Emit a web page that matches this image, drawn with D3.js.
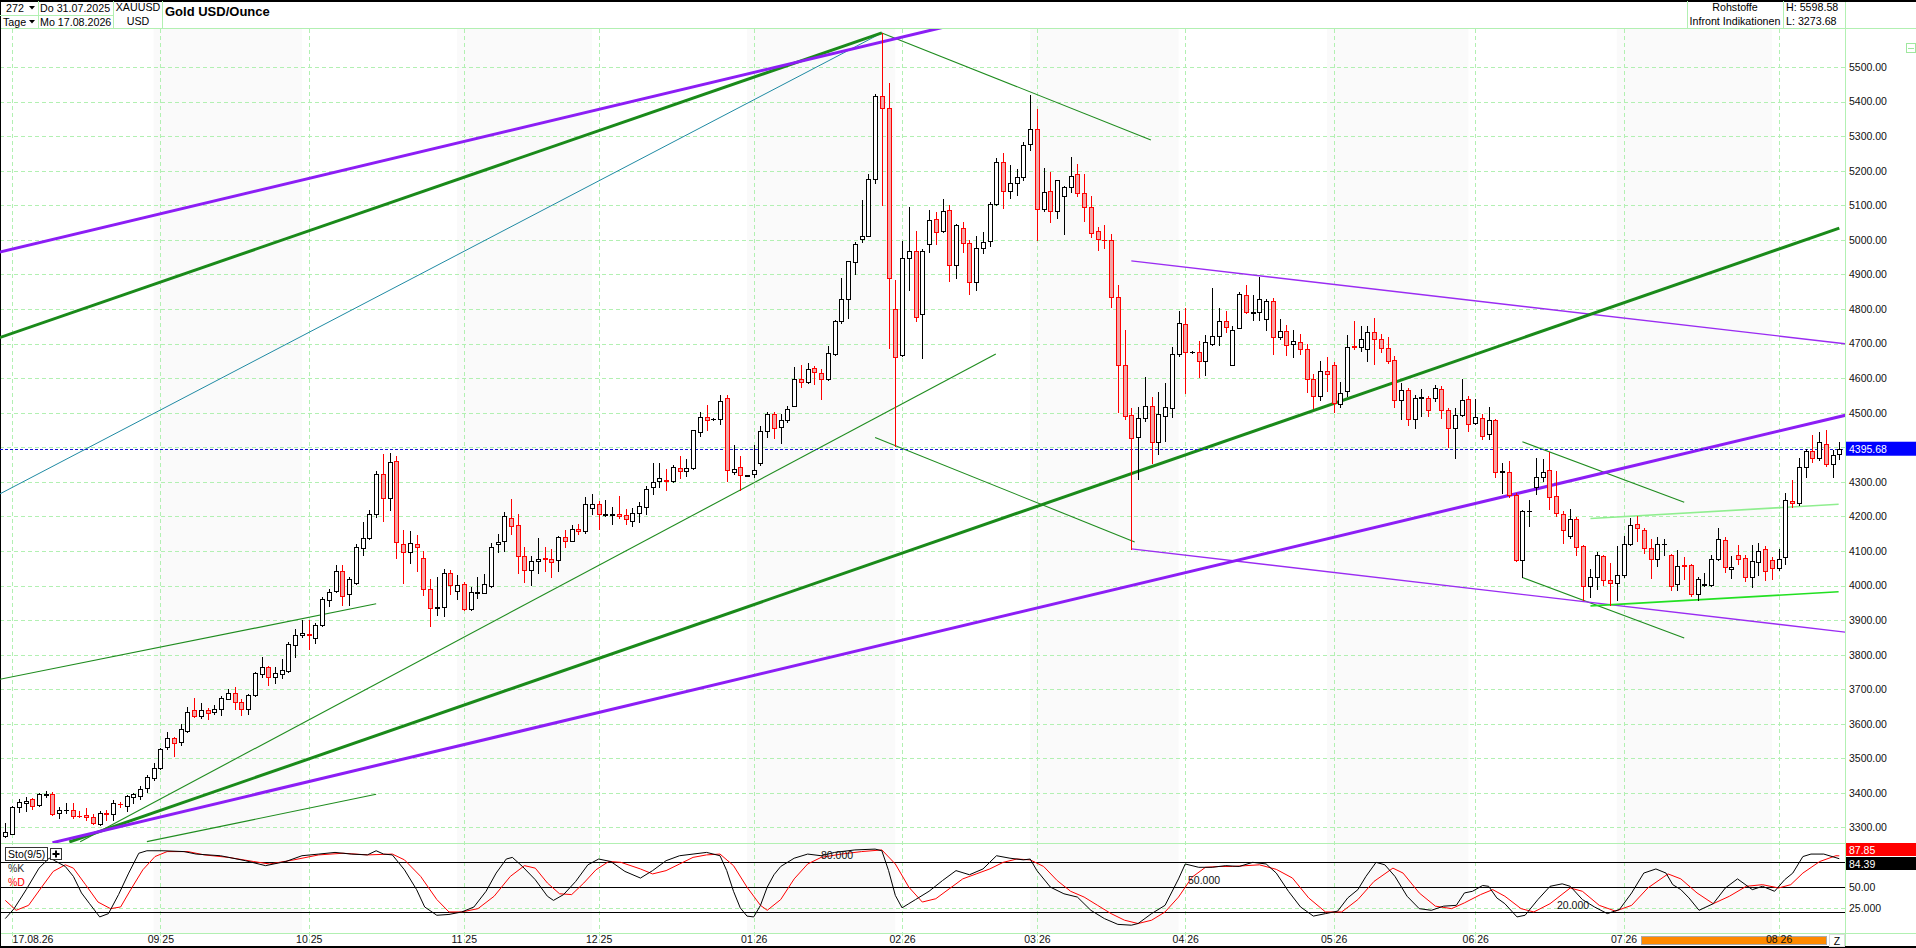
<!DOCTYPE html>
<html>
<head>
<meta charset="utf-8">
<script src="https://cdn.jsdelivr.net/npm/d3@7"></script>
<style>
html, body { margin: 0; padding: 0; background: #fff; overflow: hidden; }
svg { display: block; font-family: "Liberation Sans", Arial, sans-serif; }
</style>
</head>
<body>
<div id="chart"></div>
<script>
// ---- data ----
const open = [
3276,3282,3360,3372,3381,3365,3394,3397,3341,3351, 3352,3334,3336,3330,3309,3342,3338,3368,3363,3387,
3391,3413,3444,3471,3532,3558,3548,3578,3639,3623, 3639,3633,3642,3673,3688,3662,3642,3683,3743,3763,
3734,3743,3753,3828,3858,3861,3849,3886,3958,3985, 4042,3974,4008,4109,4136,4208,4324,4252,4359,4121,
4096,4121,4081,3989,3934,3938,4035,3985,4004,3932, 3977,3979,3999,4119,4130,4195,4175,4086,4046,4070,
4079,4078,4073,4139,4130,4164,4157,4225,4236,4205, 4203,4208,4203,4187,4211,4227,4284,4302,4306,4302,
4341,4332,4340,4444,4488,4481,4481,4543,4328,4344, 4318,4324,4355,4446,4495,4459,4479,4520,4598,4589,
4628,4614,4597,4670,4764,4830,4937,5003,5012,5177, 5417,5382,4799,4667,4946,4967,4785,4987,5059,5025,
5086,4927,5035,4990,4879,4976,4996,5103,5226,5140, 5163,5183,5277,5321,5088,5140,5082,5128,5152,5189,
5136,5095,5025,5000,5000,4836,4637,4494,4429,4486, 4520,4415,4491,4513,4671,4757,4675,4676,4650,4700,
4721,4766,4639,4746,4841,4788,4791,4772,4824,4719, 4736,4700,4705,4683,4596,4548,4621,4639,4524,4563,
4692,4690,4685,4733,4714,4688,4653,4536,4566,4483, 4543,4543,4543,4569,4507,4457,4494,4540,4470,4486,
4437,4478,4329,4329,4262,4073,4215,4284,4313,4334, 4260,4206,4142,4192,4115,4000,4026,4086,4017,4007,
4030,4120,4177,4161,4108,4076,4119,4087,4004,4058, 4058,3974,4002,4002,4076,4132,4047,4087,4079,4026,
4068,4105,4074,4050,4082,4245,4238,4342,4389,4370, 4408,4351,4380];
const high = [
3312,3362,3381,3387,3384,3401,3406,3404,3358,3370, 3372,3348,3357,3339,3349,3351,3379,3375,3394,3401,
3420,3452,3487,3529,3577,3563,3599,3649,3675,3659, 3647,3654,3680,3702,3707,3673,3686,3749,3793,3767,
3765,3787,3837,3874,3899,3900,3892,3967,3990,4058, 4058,4025,4120,4184,4218,4331,4380,4382,4376,4160,
4157,4146,4100,4020,4025,4047,4045,4030,4010,3995, 4024,4032,4123,4150,4214,4249,4208,4112,4084,4137,
4112,4106,4144,4162,4175,4179,4256,4266,4245,4247, 4227,4260,4222,4225,4241,4287,4355,4354,4338,4349,
4376,4365,4451,4503,4523,4484,4551,4551,4407,4376, 4321,4407,4462,4503,4503,4495,4520,4633,4639,4644,
4636,4625,4692,4768,4890,4940,4995,5114,5191,5423, 5598.58,5453,4885,4998,5094,5025,4973,5086,5080,5117,
5101,5047,5052,5000,5011,5023,5109,5237,5251,5216, 5205,5283,5419,5379,5208,5196,5174,5155,5240,5220,
5191,5128,5037,5042,5016,4868,4738,4513,4515,4602, 4544,4561,4585,4690,4793,4802,4677,4706,4724,4860,
4802,4794,4750,4848,4870,4839,4892,4829,4832,4772, 4754,4740,4729,4700,4611,4649,4661,4647,4588,4724,
4764,4751,4750,4775,4729,4720,4665,4586,4571,4550, 4569,4547,4581,4576,4514,4514,4597,4548,4540,4497,
4515,4483,4355,4361,4267,4219,4247,4368,4365,4387, 4331,4216,4220,4197,4118,4047,4097,4089,4065,4113,
4144,4196,4201,4166,4134,4140,4134,4092,4103,4082, 4062,4024,4036,4089,4166,4140,4084,4116,4089,4118,
4122,4113,4082,4105,4269,4305,4370,4394,4435,4443, 4449,4393,4416];
const low = [
3273.68,3280,3344,3348,3354,3363,3389,3337,3328,3341, 3328,3330,3321,3310,3307,3323,3321,3358,3347,3372,
3382,3403,3437,3469,3526,3508,3540,3576,3620,3617, 3613,3629,3624,3671,3644,3626,3628,3681,3734,3713,
3719,3731,3751,3792,3852,3816,3834,3883,3942,3982, 3944,3944,4004,4088,4134,4199,4187,4218,4081,4006,
4066,4043,3972,3884,3914,3911,3974,3960,3930,3930, 3963,3977,3997,4098,4101,4148,4035,4010,4002,4037,
4043,4026,4043,4111,4128,4148,4153,4208,4164,4201, 4179,4194,4177,4172,4184,4208,4264,4286,4275,4300,
4311,4316,4338,4433,4451,4480,4468,4302,4324,4277, 4317,4313,4349,4431,4426,4413,4473,4518,4573,4587,
4584,4540,4595,4667,4760,4775,4901,4995,5011,5163, 5100,4687,4404,4663,4854,4764,4658,4966,4989,5023,
4880,4890,4966,4844,4855,4961,4981,5101,5093,5122, 5131,5174,5261,4999,5083,5053,5064,5016,5138,5128,
5055,5007,4970,4975,4805,4503,4481,4106,4309,4476, 4353,4379,4419,4487,4664,4556,4674,4604,4609,4697,
4697,4733,4639,4745,4788,4767,4767,4740,4671,4714, 4668,4660,4671,4559,4513,4537,4563,4503,4516,4549,
4685,4679,4650,4642,4676,4645,4515,4483,4464,4456, 4491,4491,4534,4486,4401,4368,4491,4447,4467,4425,
4423,4313,4269,4257,4070,4024,4171,4264,4303,4221, 4201,4122,4137,4089,3959,3966,3990,4002,3945,3959,
4026,4118,4130,4094,4023,4055,4089,3988,3988,4019, 3971,3959,4000,4000,4074,4038,4022,4063,4012,3996,
4029,4017,4019,4044,4063,4228,4233,4315,4358,4363, 4346,4313,4366];
const close = [
3286,3359,3373,3378,3363,3396,3397,3340,3351,3352, 3332,3333,3329,3312,3341,3340,3370,3367,3391,3396,
3411,3445,3473,3526,3558,3545,3584,3633,3623,3639, 3630,3642,3676,3688,3662,3642,3683,3746,3763,3734,
3746,3757,3830,3857,3864,3856,3885,3960,3982,4042, 3970,4018,4110,4138,4208,4324,4252,4356,4125,4096,
4124,4110,3989,3934,3938,4035,4001,4001,3932,3980, 3982,4004,4112,4127,4200,4173,4084,4045,4070,4078,
4077,4067,4139,4128,4164,4159,4236,4236,4208,4206, 4208,4200,4192,4211,4230,4280,4299,4310,4303,4344,
4330,4341,4449,4488,4479,4482,4534,4333,4338,4319, 4319,4333,4446,4495,4457,4479,4512,4598,4589,4626,
4619,4597,4672,4764,4830,4939,4987,5012,5177,5417, 5381,4891,4661,4946,4967,4777,4967,5057,5023,5083,
4927,5042,4990,4879,4976,4994,5105,5226,5140,5163, 5181,5275,5321,5088,5139,5082,5172,5152,5186,5136,
5095,5021,5002,4999,4836,4637,4489,4426,4486,4520, 4415,4496,4517,4669,4760,4676,4676,4650,4703,4721,
4764,4749,4740,4842,4791,4790,4830,4822,4719,4736, 4697,4707,4683,4596,4548,4621,4613,4527,4556,4690,
4690,4714,4733,4714,4688,4649,4538,4566,4483,4543, 4544,4509,4571,4507,4457,4494,4538,4468,4488,4432,
4480,4329,4330,4262,4073,4216,4216,4313,4329,4257, 4209,4161,4192,4111,4000,4026,4087,4017,4007,4030,
4120,4174,4166,4108,4076,4120,4120,4000,4055,4057, 3974,4019,4003,4076,4134,4053,4053,4076,4026,4070,
4101,4043,4052,4076,4247,4238,4342,4389,4368,4414, 4351,4377,4395.68];

const lastPrice = 4395.68;
const headerHigh = "H: 5598.58";
const headerLow = "L: 3273.68";

// month ticks (bar index of first bar of month) and their labels
const monthIdx = [1, 23, 45, 68, 88, 111, 133, 153, 175, 197, 218, 240, 263];
const monthLabels = ["17.08.26", "09 25", "10 25", "11 25", "12 25", "01 26", "02 26", "03 26", "04 26", "05 26", "06 26", "07 26", "08 26"];
const priceTicks = [3300,3400,3500,3600,3700,3800,3900,4000,4100,4200,4300,4400,4500,4600,4700,4800,4900,5000,5100,5200,5300,5400,5500];

// drawn trend lines: [barIndex1, price1, barIndex2, price2]
const thickPurple = [[-1, 4964, 140, 5619], [7, 3256, 273, 4493]];
const thickGreen = [[-1, 4716, 130, 5598.58], [9.5, 3258, 272, 5034]];
const tealLine = [[-1, 4263, 130, 5598.58]];
const thinGreen = [[-1, 3728, 55, 3947], [21, 3259, 55, 3396], [11.1, 3259, 146.9, 4670],
  [130, 5598.58, 169.9, 5289], [129, 4428, 167.5, 4126], [225, 4416, 249, 4241], [225, 4023, 249, 3848]];
const thinPurple = [[167, 4939, 273, 4699], [167, 4106, 273, 3865]];
const lightGreen = [[235.1, 4194, 271.9, 4235]];
const brightGreen = [[235.1, 3941, 271.9, 3982]];

// stochastic Sto(9/5): [barIndex, value]
const stoK = [[0,12],[1.3,24],[3.1,47],[5,73],[6.5,85],[7.1,83],[8.9,75],[10.1,63],[11.3,43],[12.5,30],[14,14],[15.3,18],[16.8,41],[18.3,67],[19.8,91],[21,94],[23.4,94],[26.5,93],[28.3,90],[31.9,88],[35.6,82],[38.6,76],[41.6,81],[44,88],[46.5,90],[48.9,92],[51.3,90],[53.7,89],[55,94],[56.1,90],[57.4,89],[59.2,71],[61,47],[62.2,26],[64,16],[65.8,17],[67.7,20],[69.5,26],[71.3,45],[72.8,67],[74.3,84],[75.2,86],[76.7,75],[78.6,59],[80.4,39],[81.3,34],[82.8,41],[84.6,57],[86.4,77],[88,84],[89.8,81],[91.9,69],[94.2,61],
  [96,70],[98,82],[100,88],[102,90],[104,92],[106,88],[107,70],[108,45],[109,25],[110,15],[111,14],[112,28],[113,50],[114,65],[115,75],[117,85],[119,90],[121,88],[123,92],[126,95],[129,96],[130,94],[131,70],[132,40],[133,25],[134,30],[135,35],[137,45],[139,58],[141,70],[143,65],[145,72],[147,88],[149,85],[151,83],[152,84],[153,70],[155,50],[157,42],[159,38],[161,22],[163,12],[165,5],[167,4],[168,6],[170,18],[172,28],[174,60],[175,78],[177,74],[179,74],[181,76],[183,75],[185,80],[187,78],
  [188.5,67],[190.3,45],[192.1,26],[194,15],[195.8,18],[197.6,21],[199.1,37],[200.6,47],[201.8,63],[203.3,80],[204.6,77],[206.1,63],[207.9,39],[209.7,24],[211.5,22],[213.3,27],[215.2,28],[216.4,43],[217.6,45],[219.1,52],[220,51],[221.2,37],[222.4,30],[224.2,14],[225.4,16],[227.3,35],[229.1,51],[230.9,54],[232.1,51],[233.9,35],[235.7,26],[237.6,18],[239.4,23],[241.2,43],[243,67],[244.8,72],[246.3,67],[247.3,53],[248.5,47],[249.7,37],[251.2,22],[253.3,30],[255.1,49],[256.9,60],[259.1,47],[260.6,51],[262.4,45],[263.9,59],[265.1,67],[266.6,87],[267.8,90],[269.7,90],[272,84.39]];
const stoD = [[0,34],[1.6,22],[3.45,28],[5.3,49],[7.1,69],[8.9,77],[10.1,73],[11.9,53],[13.75,32],[15.6,24],[17.1,26],[18.6,47],[20.4,71],[22.2,87],[24,93],[27.1,93],[29.5,89],[33.1,86],[36.8,81],[39.2,78],[42.8,83],[46.5,89],[50.1,91],[53.7,89],[57.4,90],[59.2,83],[61.6,63],[64,35],[65.8,20],[67.7,20],[70.1,24],[72.5,39],[74.9,63],[77,76],[78.6,73],[80.4,55],[82.2,42],[84,41],[85.8,55],[87.6,71],[89.5,81],[91.3,80],[94.2,72],
  [96,66],[98,70],[100,78],[102,86],[104,89],[106,90],[108,76],[110,50],[112,28],[113,22],[115,35],[117,60],[119,78],[121,86],[124,90],[127,93],[130,95],[132,78],[134,50],[136,32],[138,36],[140,48],[142,60],[144,66],[146,72],[148,80],[150,84],[152,83],[154,75],[156,58],[158,45],[160,38],[162,28],[164,18],[166,10],[168,6],[170,10],[172,20],[174,38],[176,62],[178,74],[180,75],[182,75],[184,76],[186,77],
  [188.5,71.5],[190.9,61],[193.3,37],[195.8,20],[198.2,20],[200.6,35],[203,57],[205.8,73],[207.3,67],[209.7,43],[212.1,27],[214.5,24],[216.4,31],[218.8,41],[220.6,47],[222.4,39],[224.8,24],[226.7,20],[229.1,30],[232.1,49],[233.9,45],[236.4,28],[238.8,21],[241.2,28],[243.6,49],[246.6,66],[248.5,60],[250.9,43],[253.3,30],[255.7,39],[258.2,51],[260.6,53],[263,49],[264.8,53],[266.6,67],[269.1,81],[271.5,88],[272,87.85]];
const stoLevels = [20, 50, 80];
const stoLevelLabels = ["20.000", "50.000", "80.000"];
const stoAxisTicks = [50, 25];
const stoAxisLabels = ["50.00", "25.000"];
const lastK = 84.39, lastD = 87.85;

// ---- layout ----
const W = 1916, H = 948;
const plotRight = 1845, plotTop = 29, priceBottom = 843, stoBottom = 933;
const gridColor = "#b2f0b2";
const font = "10.5px";

const x = d3.scaleLinear().domain([0, close.length - 1]).range([5.3, 1839.3]);
const y = d3.scaleLinear().domain([3258, 5607]).range([842, 30]);
const ys = d3.scaleLinear().domain([0, 100]).range([928.5, 845.8]);

const candles = open.map((o, i) => ({ i: i, o: o, h: high[i], l: low[i], c: close[i] }));

const svg = d3.select("#chart").append("svg")
    .attr("width", W)
    .attr("height", H);

const defs = svg.append("defs");
defs.append("clipPath").attr("id", "clipP").append("rect")
    .attr("x", 0).attr("y", plotTop).attr("width", plotRight).attr("height", priceBottom - plotTop);
defs.append("clipPath").attr("id", "clipS").append("rect")
    .attr("x", 0).attr("y", priceBottom).attr("width", plotRight).attr("height", stoBottom - priceBottom);

// alternate month shading
const shade = svg.append("g");
for (let i = 1; i < monthIdx.length - 1; i += 2) {
    shade.append("rect")
        .attr("x", x(monthIdx[i] - 1))
        .attr("y", plotTop)
        .attr("width", x(monthIdx[i + 1] - 1) - x(monthIdx[i] - 1))
        .attr("height", stoBottom - plotTop)
        .attr("fill", "#fafafa");
}

// grid
const grid = svg.append("g").attr("shape-rendering", "crispEdges");
grid.selectAll(".hgrid").data(priceTicks).join("line")
    .attr("x1", 0).attr("x2", plotRight + 3)
    .attr("y1", d => Math.round(y(d)) + 0.5).attr("y2", d => Math.round(y(d)) + 0.5)
    .attr("stroke", gridColor).attr("stroke-dasharray", "4,3");
grid.selectAll(".vgrid").data(monthIdx).join("line")
    .attr("x1", d => Math.round(x(d)) + 0.5).attr("x2", d => Math.round(x(d)) + 0.5)
    .attr("y1", plotTop).attr("y2", H - 2)
    .attr("stroke", gridColor).attr("stroke-dasharray", "4,3");

// stochastic level lines
grid.append("line")
    .attr("x1", 0).attr("x2", plotRight)
    .attr("y1", Math.round(ys(25)) + 0.5).attr("y2", Math.round(ys(25)) + 0.5)
    .attr("stroke", gridColor).attr("stroke-dasharray", "4,3");
grid.selectAll(".lvl").data(stoLevels).join("line")
    .attr("x1", 0).attr("x2", plotRight)
    .attr("y1", d => Math.round(ys(d)) + 0.5).attr("y2", d => Math.round(ys(d)) + 0.5)
    .attr("stroke", "#000");

// panel frames
const frame = svg.append("g").attr("shape-rendering", "crispEdges");
frame.append("line").attr("x1", 0).attr("x2", W).attr("y1", 28.5).attr("y2", 28.5).attr("stroke", gridColor);
frame.append("line").attr("x1", 0).attr("x2", W).attr("y1", priceBottom + 0.5).attr("y2", priceBottom + 0.5).attr("stroke", gridColor);
frame.append("line").attr("x1", 0).attr("x2", W).attr("y1", stoBottom + 0.5).attr("y2", stoBottom + 0.5).attr("stroke", gridColor);
frame.append("line").attr("x1", plotRight + 0.5).attr("x2", plotRight + 0.5).attr("y1", 0).attr("y2", H).attr("stroke", gridColor);
frame.append("line").attr("x1", 0).attr("x2", W).attr("y1", 0.5).attr("y2", 0.5).attr("stroke", "#000").attr("stroke-width", 2);
frame.append("line").attr("x1", 0).attr("x2", W).attr("y1", H - 1).attr("y2", H - 1).attr("stroke", "#000").attr("stroke-width", 2);
frame.append("line").attr("x1", 0.5).attr("x2", 0.5).attr("y1", 0).attr("y2", H).attr("stroke", "#000");

// trend lines
const lines = svg.append("g").attr("clip-path", "url(#clipP)").attr("fill", "none");
function drawLines(set, color, width) {
    lines.selectAll(null).data(set).join("line")
        .attr("x1", d => x(d[0])).attr("y1", d => y(d[1]))
        .attr("x2", d => x(d[2])).attr("y2", d => y(d[3]))
        .attr("stroke", color).attr("stroke-width", width);
}
drawLines(tealLine, "#1f8aa3", 1);
drawLines(thinGreen, "#1f8c1f", 1.1);
drawLines(thinPurple, "#9a2cf2", 1.3);
drawLines(lightGreen, "#8fee8f", 1.6);
drawLines(brightGreen, "#22e022", 1.6);
drawLines(thickGreen, "#1a8a1a", 3);
drawLines(thickPurple, "#8c1ef5", 3);

// current price line
lines.append("line")
    .attr("x1", 0).attr("x2", plotRight)
    .attr("y1", Math.round(y(lastPrice)) + 0.5).attr("y2", Math.round(y(lastPrice)) + 0.5)
    .attr("stroke", "#1414d2").attr("stroke-width", 1.2).attr("stroke-dasharray", "3,2");

// candles
const cg = svg.append("g").attr("clip-path", "url(#clipP)").attr("shape-rendering", "crispEdges");
const isUp = d => d.c >= d.o;
cg.selectAll(".wick").data(candles).join("line")
    .attr("class", "wick")
    .attr("x1", d => Math.round(x(d.i)) + 0.5).attr("x2", d => Math.round(x(d.i)) + 0.5)
    .attr("y1", d => Math.round(y(d.h))).attr("y2", d => Math.round(y(d.l)) + 1)
    .attr("stroke", d => isUp(d) ? "#000" : "#ff0000");
const bodyTop = d => Math.round(y(Math.max(d.o, d.c)));
const bodyBot = d => Math.round(y(Math.min(d.o, d.c)));
cg.selectAll(".body").data(candles.filter(d => bodyBot(d) - bodyTop(d) >= 1)).join("rect")
    .attr("class", "body")
    .attr("x", d => Math.round(x(d.i)) - 2 + 0.5)
    .attr("y", d => bodyTop(d) + 0.5)
    .attr("width", 4)
    .attr("height", d => bodyBot(d) - bodyTop(d))
    .attr("fill", d => isUp(d) ? "#fff" : "#f5a3a3")
    .attr("stroke", d => isUp(d) ? "#000" : "#ff0000");
cg.selectAll(".doji").data(candles.filter(d => bodyBot(d) - bodyTop(d) < 1)).join("line")
    .attr("class", "doji")
    .attr("x1", d => Math.round(x(d.i)) - 2).attr("x2", d => Math.round(x(d.i)) + 3)
    .attr("y1", d => bodyTop(d) + 0.5).attr("y2", d => bodyTop(d) + 0.5)
    .attr("stroke", d => isUp(d) ? "#000" : "#ff0000").attr("stroke-width", 1.5);

// stochastic lines
const sg = svg.append("g").attr("clip-path", "url(#clipS)").attr("fill", "none");
const stoLine = d3.line().x(d => x(d[0])).y(d => ys(d[1]));
sg.append("path").datum(stoD).attr("d", stoLine).attr("stroke", "#ff0000").attr("stroke-width", 1);
sg.append("path").datum(stoK).attr("d", stoLine).attr("stroke", "#000").attr("stroke-width", 1);

// level labels inside the panel
const lvlLabelX = [1557, 1188, 821];
svg.selectAll(".lvlLabel").data(stoLevels).join("text")
    .attr("x", (d, i) => lvlLabelX[i])
    .attr("y", d => ys(d) - 3)
    .attr("font-size", font).attr("fill", "#111")
    .text((d, i) => stoLevelLabels[i]);

// Sto legend
svg.append("rect").attr("x", 5.5).attr("y", 847.5).attr("width", 42).attr("height", 13)
    .attr("fill", "#fff").attr("stroke", "#333").attr("shape-rendering", "crispEdges");
svg.append("text").attr("x", 8).attr("y", 858).attr("font-size", font).attr("fill", "#000").text("Sto(9/5)");
svg.append("rect").attr("x", 50.5).attr("y", 848.5).attr("width", 11).attr("height", 11)
    .attr("fill", "#fff").attr("stroke", "#333").attr("shape-rendering", "crispEdges");
svg.append("path").attr("d", "M52.5,854h7M56,850.5v7").attr("stroke", "#000").attr("stroke-width", 2);
svg.append("text").attr("x", 8).attr("y", 872).attr("font-size", font).attr("fill", "#333").text("%K");
svg.append("text").attr("x", 8).attr("y", 886).attr("font-size", font).attr("fill", "#ff0000").text("%D");

// right price axis
svg.append("g")
    .attr("transform", `translate(${plotRight},0)`)
    .call(d3.axisRight(y).tickValues(priceTicks).tickSize(0).tickPadding(4).tickFormat(d3.format(".2f")))
    .call(g => g.select(".domain").remove())
    .call(g => g.selectAll("text").attr("font-size", font).attr("font-family", "Liberation Sans, Arial, sans-serif").attr("fill", "#111"));

// last price box
svg.append("rect").attr("x", plotRight + 1).attr("y", y(lastPrice) - 7).attr("width", W - plotRight - 1).attr("height", 14).attr("fill", "#0000ff");
svg.append("text").attr("x", plotRight + 4).attr("y", y(lastPrice) + 4).attr("font-size", font).attr("fill", "#fff").text(lastPrice.toFixed(2));

// small collapse icon
svg.append("rect").attr("x", 1906.5).attr("y", 43.5).attr("width", 9).attr("height", 9).attr("fill", "none").attr("stroke", "#9fe89f");
svg.append("line").attr("x1", 1908).attr("x2", 1914).attr("y1", 48.5).attr("y2", 48.5).attr("stroke", "#9fe89f");

// stochastic right axis
svg.append("g")
    .attr("transform", `translate(${plotRight},0)`)
    .call(d3.axisRight(ys).tickValues(stoAxisTicks).tickSize(0).tickPadding(4).tickFormat((d, i) => stoAxisLabels[i]))
    .call(g => g.select(".domain").remove())
    .call(g => g.selectAll("text").attr("font-size", font).attr("font-family", "Liberation Sans, Arial, sans-serif").attr("fill", "#111"));
svg.append("rect").attr("x", plotRight + 1).attr("y", 843).attr("width", W - plotRight - 1).attr("height", 13).attr("fill", "#ff0000");
svg.append("text").attr("x", plotRight + 4).attr("y", 853.5).attr("font-size", font).attr("fill", "#fff").text(lastD.toFixed(2));
svg.append("rect").attr("x", plotRight + 1).attr("y", 857).attr("width", W - plotRight - 1).attr("height", 13).attr("fill", "#000");
svg.append("text").attr("x", plotRight + 4).attr("y", 867.5).attr("font-size", font).attr("fill", "#fff").text(lastK.toFixed(2));

// scroll bar + Z button in date row
svg.append("rect").attr("x", 1641.5).attr("y", 936.5).attr("width", 185).attr("height", 8)
    .attr("fill", "#ff8a00").attr("stroke", "#aaa").attr("shape-rendering", "crispEdges");
svg.append("rect").attr("x", 1829.5).attr("y", 934.5).attr("width", 15).attr("height", 12)
    .attr("fill", "none").attr("stroke", "#ddd").attr("shape-rendering", "crispEdges");
svg.append("text").attr("x", 1837).attr("y", 945).attr("text-anchor", "middle").attr("font-size", font).attr("fill", "#000").text("Z");

// date axis
svg.append("g")
    .attr("transform", `translate(0,${stoBottom + 3})`)
    .call(d3.axisBottom(x).tickValues(monthIdx).tickSize(0).tickPadding(0).tickFormat((d, i) => monthLabels[i]))
    .call(g => g.select(".domain").remove())
    .call(g => g.selectAll("text").attr("font-size", font).attr("font-family", "Liberation Sans, Arial, sans-serif").attr("fill", "#111")
        .attr("text-anchor", (d, i) => i === 0 ? "start" : "middle"));

// header
const hd = svg.append("g").attr("font-size", "10.7px").attr("fill", "#000");
const hsep = [38.5, 113.5, 162.5, 1687.5, 1783.5];
hd.selectAll(".hsep").data(hsep).join("line")
    .attr("x1", d => d).attr("x2", d => d).attr("y1", 1).attr("y2", 28)
    .attr("stroke", gridColor).attr("shape-rendering", "crispEdges");
hd.append("line").attr("x1", 0).attr("x2", 113).attr("y1", 15.5).attr("y2", 15.5)
    .attr("stroke", gridColor).attr("shape-rendering", "crispEdges");
hd.append("text").attr("x", 6).attr("y", 12).text("272");
hd.append("text").attr("x", 3).attr("y", 26).text("Tage");
hd.append("path").attr("d", "M29,6h6l-3,3.5z M29,20h6l-3,3.5z").attr("fill", "#000");
hd.append("text").attr("x", 40).attr("y", 12).text("Do 31.07.2025");
hd.append("text").attr("x", 40).attr("y", 26).text("Mo 17.08.2026");
hd.append("text").attr("x", 138).attr("y", 11).attr("text-anchor", "middle").text("XAUUSD");
hd.append("text").attr("x", 138).attr("y", 25).attr("text-anchor", "middle").text("USD");
hd.append("text").attr("x", 165).attr("y", 16).attr("font-size", "13px").attr("font-weight", "bold").text("Gold USD/Ounce");
hd.append("text").attr("x", 1735).attr("y", 11).attr("text-anchor", "middle").text("Rohstoffe");
hd.append("text").attr("x", 1735).attr("y", 25).attr("text-anchor", "middle").text("Infront Indikationen");
hd.append("text").attr("x", 1786).attr("y", 11).text(headerHigh);
hd.append("text").attr("x", 1786).attr("y", 25).text(headerLow);
</script>
</body>
</html>
